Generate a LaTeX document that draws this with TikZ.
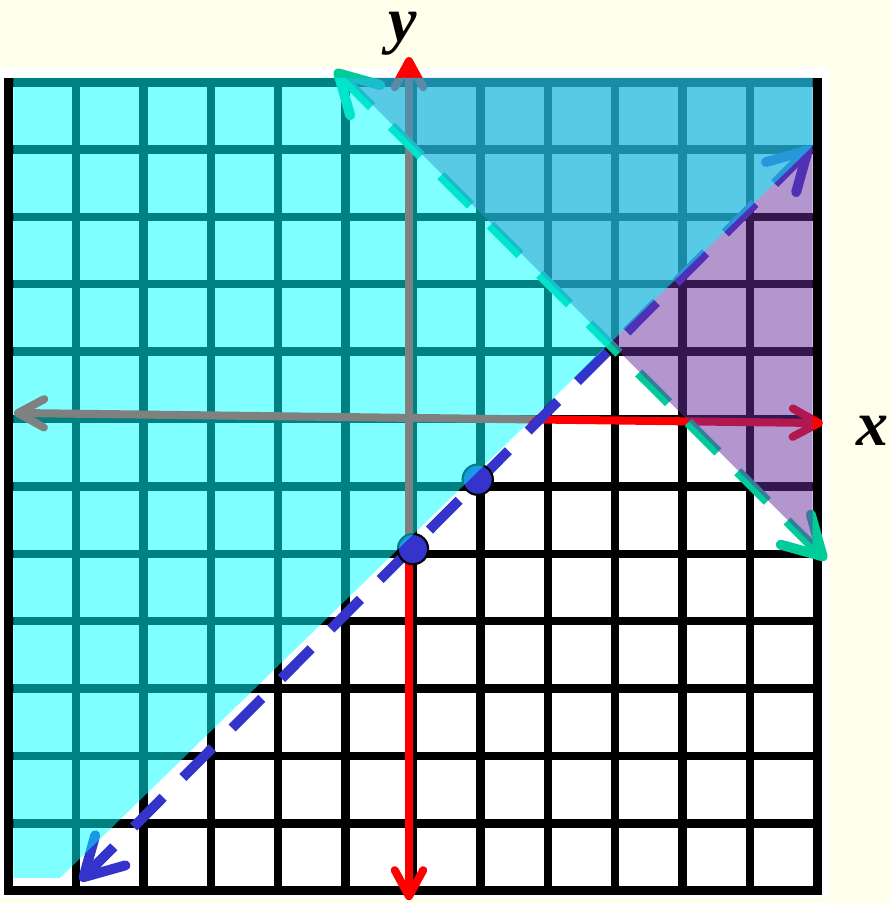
\documentclass[tikz,border=0pt]{standalone}
\usepackage{fontspec}
\setmainfont{Liberation Serif}
\usetikzlibrary{arrows.meta}
\definecolor{bgYellow}{RGB}{255,255,235}
\definecolor{lnBlue}{RGB}{52,52,204}
\definecolor{lnGreen}{RGB}{0,204,153}
\definecolor{shPurple}{RGB}{105,47,159}
\definecolor{shCyan}{RGB}{0,255,255}

\begin{document}
\begin{tikzpicture}[
    x=1cm, y=1cm,
    gridln/.style={line width=3.5pt, black},
    axis/.style={line width=3.4pt, red,
        {Straight Barb[length=11pt, width=12pt, round]}-{Straight Barb[length=11pt, width=12pt, round]}},
    bnd/.style={line width=4.2pt, dash pattern=on 17.7pt off 11.8pt,
        {Straight Barb[length=16pt, width=18pt, round]}-{Straight Barb[length=16pt, width=18pt, round]}},
    dotnode/.style={circle, draw=black, line width=0.9pt, fill=lnBlue,
        minimum size=0.45cm, inner sep=0pt},
    lbl/.style={font=\fontsize{27}{29}\selectfont\bfseries\itshape, inner sep=0pt, anchor=base}
]
    \useasboundingbox[fill=bgYellow] (-6.128,-7.181) rectangle (7.077,6.217);
    \fill[white] (-6.13,-7.11) rectangle (6.17,5.21);
    \draw[gridln] (-6,-7) grid (6,5);
    \draw[gridln, line width=3.8pt] (-6,-7) rectangle (6,5);

    \coordinate (xl) at (-5.92,0.09);
    \coordinate (xr) at (6.08,-0.06);
    \coordinate (yt) at (-0.06,5.37);
    \coordinate (yb) at (-0.06,-7.14);
    \draw[axis] (xl) -- (xr);
    \draw[axis] (yb) -- (yt);

    \coordinate (bur) at (5.91,4.04);
    \coordinate (bll) at (-4.94,-6.85);
    \coordinate (gul) at (-1.16,5.18);
    \coordinate (glr) at (6.13,-2.09);
    \draw[bnd, lnBlue] (bur) -- (bll);
    \draw[bnd, lnGreen] (gul) -- (glr);

    \node[dotnode] (p1) at (0,-1.93) {};
    \node[dotnode] (p2) at (0.96,-0.9) {};

    \fill[shPurple, opacity=0.5] (-1.0,5.06) -- (5.93,5.06) -- (5.93,-1.87) -- cycle;
    \fill[shCyan, opacity=0.5] (-5.93,5.06) -- (5.93,5.06) -- (5.93,4.05)
        -- (-5.24,-6.81) -- (-5.93,-6.81) -- cycle;

    \node[lbl] (ylab) at (-0.16,5.6) {y};
    \node[lbl] (xlab) at (6.82,-0.39) {x};
\end{tikzpicture}
\end{document}
